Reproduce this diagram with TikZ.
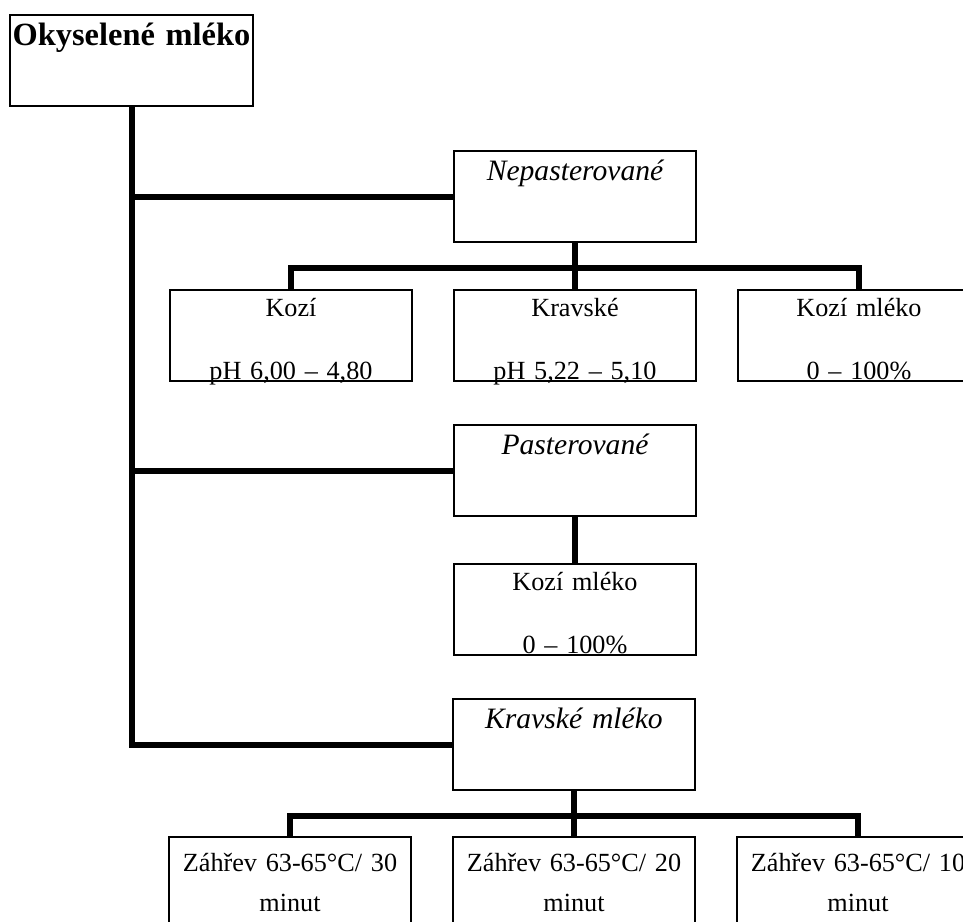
\documentclass[tikz,border=0pt]{standalone}
\usepackage{fontspec}
\setmainfont{Liberation Serif}
\usetikzlibrary{positioning}
\tikzset{
  box/.style = {rectangle, draw, line width=1pt, inner sep=0pt,
    text width=121pt, align=center, minimum height=45.5pt},
  rootbox/.style = {box, text width=121.5pt,
    font=\bfseries\fontsize{16.2}{20}\selectfont, text height=15.5pt, text depth=30pt},
  headbox/.style = {box, font=\itshape\fontsize{14.8}{18}\selectfont,
    text height=14.5pt, text depth=31pt},
  leafbox/.style = {box, font=\fontsize{13.1}{31.5}\selectfont,
    text height=13pt, text depth=32.5pt},
  heatbox/.style = {box, font=\fontsize{13.1}{20}\selectfont,
    text height=17pt, text depth=28.5pt},
  conn/.style = {line width=3pt},
}

\begin{document}
\begin{tikzpicture}[x=0.5pt, y=-0.5pt, node distance=23pt]
  \useasboundingbox (0,0) rectangle (963,921);

  \node[rootbox, anchor=north west] (root) at (9,14) {Okyselené mléko};

  \node[headbox, anchor=north west] (nep)  at (453,150) {Nepasterované};
  \node[leafbox, below=of nep] (kravske) {Kravské\\pH 5,22 – 5,10};
  \node[leafbox, left=20pt of kravske] (kozi) {Kozí\\pH 6,00 – 4,80};
  \node[leafbox, right=20pt of kravske] (kozim) {Kozí mléko\\0 – 100\%};
  \coordinate[below=12.5pt of nep.south] (nepbus);

  \node[headbox, anchor=north west] (past) at (453,424) {Pasterované};
  \node[leafbox, below=of past] (kozim2) {Kozí mléko\\0 – 100\%};

  \node[headbox, anchor=north west] (krav) at (452,698) {Kravské mléko};
  \node[heatbox, below=22.5pt of krav] (zahrev20) {Záhřev 63-65°C/ 20\\minut};
  \node[heatbox, left=20pt of zahrev20] (zahrev30) {Záhřev 63-65°C/ 30\\minut};
  \node[heatbox, right=20pt of zahrev20] (zahrev10) {Záhřev 63-65°C/ 10\\minut};
  \coordinate[below=12.5pt of krav.south] (kravbus);

  \draw[conn] (root) |- (nep);
  \draw[conn] (root) |- (past);
  \draw[conn] (root) |- (krav);

  \draw[conn] (nep) -- (kravske);
  \draw[conn] (nepbus) -| (kozi);
  \draw[conn] (nepbus) -| (kozim);

  \draw[conn] (past) -- (kozim2);

  \draw[conn] (krav) -- (zahrev20);
  \draw[conn] (kravbus) -| (zahrev30);
  \draw[conn] (kravbus) -| (zahrev10);
\end{tikzpicture}
\end{document}
